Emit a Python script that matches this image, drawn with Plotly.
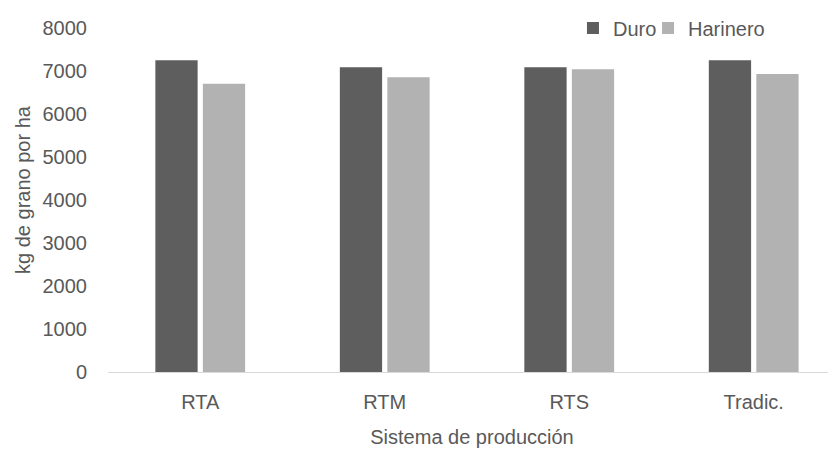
import plotly.graph_objects as go

categories = ["RTA", "RTM", "RTS", "Tradic."]
duro = [7250, 7086, 7086, 7249]
harinero = [6705, 6853, 7040, 6930]
y_ticks = [0, 1000, 2000, 3000, 4000, 5000, 6000, 7000, 8000]

FONT = "Liberation Sans Narrow, Arial Narrow, Liberation Sans, Arial, sans-serif"
TXT = "#595959"

fig = go.Figure()
fig.add_trace(go.Bar(name="Duro", x=categories, y=duro, legend="legend",
                     marker=dict(color="#5e5e5e", line=dict(width=0))))
fig.add_trace(go.Bar(name="Harinero", x=categories, y=harinero, legend="legend2",
                     marker=dict(color="#b2b2b2", line=dict(width=0))))

leg_common = dict(orientation="h", xanchor="left", yanchor="middle", y=0.945,
                  font=dict(size=20, color=TXT), bgcolor="rgba(0,0,0,0)")

fig.update_layout(
    width=836, height=450,
    margin=dict(l=100, r=8, t=0, b=86),
    paper_bgcolor="white", plot_bgcolor="white",
    barmode="group", bargap=0.485, bargroupgap=0.11,
    font=dict(family=FONT, size=20, color=TXT),
    showlegend=True,
    legend=dict(x=0.6387, **leg_common),
    legend2=dict(x=0.7418, **leg_common),
    xaxis=dict(range=[-0.5, 3.446], showline=True, linecolor="#d9d9d9", linewidth=1,
               automargin=False,
               ticks="outside", ticklen=12, tickcolor="rgba(0,0,0,0)",
               title=dict(text="Sistema de producción", standoff=17, font=dict(size=20, color=TXT))),
    yaxis=dict(range=[0, 8465], tickvals=y_ticks, showgrid=False, zeroline=False, showline=False,
               automargin=False,
               ticks="outside", ticklen=16, tickcolor="rgba(0,0,0,0)",
               title=dict(text="kg de grano por ha", standoff=6, font=dict(size=20, color=TXT))),
)

fig.write_html("out.html")
